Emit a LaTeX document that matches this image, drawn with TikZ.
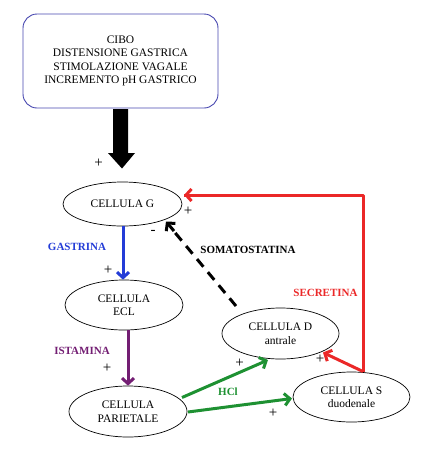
\documentclass[tikz,border=0pt]{standalone}
\usepackage{fontspec}
\setmainfont{Liberation Serif}
\usetikzlibrary{arrows.meta,shapes.geometric}
\definecolor{cblue}{RGB}{35,60,215}
\definecolor{cred}{RGB}{235,40,40}
\definecolor{cgreen}{RGB}{30,145,50}
\definecolor{cpurple}{RGB}{115,30,115}
\definecolor{cbox}{RGB}{70,70,175}
\tikzset{
  cell/.style={ellipse,draw,line width=0.7pt,minimum width=118pt,minimum height=50pt,inner sep=0pt,align=center,font=\fontsize{11.5}{13.5}\selectfont},
  topbox/.style={draw=cbox,rounded corners=14pt,line width=0.9pt,minimum width=195pt,minimum height=94pt,align=center,font=\fontsize{11.5}{13.5}\selectfont},
  lab/.style={font=\bfseries\fontsize{11}{13}\selectfont},
  sign/.style={font=\fontsize{15}{15}\selectfont,inner sep=0pt},
  conn/.style={line width=3pt,-{Straight Barb[length=5.5pt,width=12pt,line width=3pt]}},
}
\begin{document}
\begin{tikzpicture}[x=1pt,y=-1pt]
\useasboundingbox (0,0) rectangle (432,456);
\node[topbox] (box) at (120.5,61) {CIBO\\DISTENSIONE GASTRICA\\STIMOLAZIONE VAGALE\\INCREMENTO pH GASTRICO};
\node[cell,minimum width=119pt,minimum height=44pt] (g) at (122.5,204) {CELLULA G};
\node[cell] (ecl) at (124,305) {CELLULA\\ECL};
\node[cell,minimum height=51pt] (par) at (128,411.5) {CELLULA\\PARIETALE};
\node[cell,minimum width=117pt,minimum height=51pt] (d) at (280.5,333.5) {CELLULA D\\antrale};
\node[cell,minimum width=117pt] (s) at (351.5,397) {CELLULA S\\duodenale};
% thick block arrow
\coordinate (ba) at (box.south);
\fill[black] (113,109) -- (128,109) -- (128,153) -- (135,153) -- (122,168.5) -- (108,153) -- (113,153) -- cycle;
% coordinates
\coordinate (gR) at (184,195);
\coordinate (corner) at (363,195);
\coordinate (sTop) at (363,371.5);
% red
\draw[cred,line width=3pt,line join=round] (sTop) -- (corner) -- (gR);
\draw[cred,conn] (gR) ++(4,0) -- (gR);
\draw[cred,conn] (sTop) -- (323,352.5);
% blue
\draw[cblue,conn] (g.south) ++(0.5,0) coordinate (gs) -- (gs |- ecl.north);
% purple
\draw[cpurple,conn] (128,330) -- (par.north);
% dashed
\draw[black,line width=3pt,dash pattern=on 10pt off 7pt] (236,306) -- (172,229);
\draw[conn,black] (174,231) -- (166,221.5);
% green
\draw[cgreen,conn] (182,397.5) -- (268,360);
\draw[cgreen,conn] (188,412) -- (292,398.5);
% labels
\node[lab,text=cblue] (lg) at (77,247) {GASTRINA};
\node[lab] (ls) at (248,250) {SOMATOSTATINA};
\node[lab,text=cred] (lse) at (325.5,293) {SECRETINA};
\node[lab,text=cpurple] (li) at (82,351) {ISTAMINA};
\node[lab,text=cgreen] (lh) at (228,392) {HCl};
% signs
\node[sign] (p1) at (98.5,163) {+};
\node[sign] (p2) at (188,211) {+};
\node[sign] (m1) at (153,232.5) {-};
\node[sign] (p3) at (108,270) {+};
\node[sign] (p4) at (107,368) {+};
\node[sign] (p5) at (239.5,363) {+};
\node[sign] (p6) at (320,359) {+};
\node[sign] (p7) at (273,413) {+};
\end{tikzpicture}
\end{document}
